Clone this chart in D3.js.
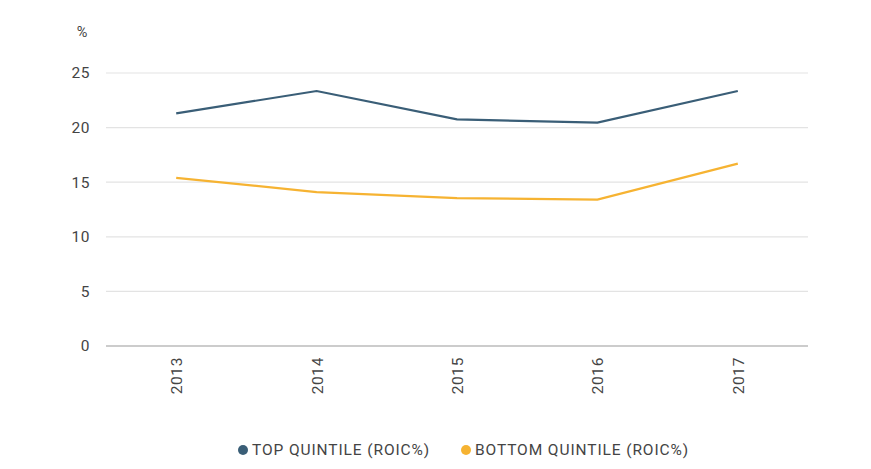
<!DOCTYPE html>
<html><head><meta charset="utf-8">
<script src="https://cdn.jsdelivr.net/npm/d3@7"></script>
<style>body{margin:0;background:#fff;} text{font-family:Roboto,"DejaVu Sans",sans-serif;}</style>
</head><body><svg id="c" width="871" height="469"></svg>
<script>
const years = ["2013","2014","2015","2016","2017"];
const topQuintile = [21.3, 23.35, 20.75, 20.45, 23.35];
const bottomQuintile = [15.4, 14.1, 13.55, 13.4, 16.7];
const yTicks = [0,5,10,15,20,25];
const seriesNames = ["TOP QUINTILE (ROIC%)", "BOTTOM QUINTILE (ROIC%)"];
const colors = ["#3a5e77", "#f6b332"];

const svg = d3.select("#c");
const m = {l:106, r:808, t:73, b:346};
const x = d3.scalePoint().domain(years).range([m.l, m.r]).padding(0.5);
const y = d3.scaleLinear().domain([0,25]).range([m.b, m.t]);

// grid
svg.append("g").selectAll("line").data(yTicks).join("line")
  .attr("x1", m.l).attr("x2", m.r)
  .attr("y1", d=>y(d)).attr("y2", d=>y(d))
  .attr("stroke", d=> d===0 ? "#9a9a9a" : "#e3e3e3").attr("stroke-width", 1.2);

// y axis labels
const ya = svg.append("g").attr("transform", `translate(${m.l},0)`)
  .call(d3.axisLeft(y).tickValues(yTicks).tickSize(0).tickPadding(16));
ya.select(".domain").remove();
ya.selectAll("text").attr("font-size", 15.5).attr("fill", "#444").attr("font-family","Roboto, sans-serif").attr("letter-spacing","0.5");
svg.append("text").attr("x", 82).attr("y", 37).attr("text-anchor","middle")
  .attr("font-size", 14.5).attr("fill","#444").text("%");

// x axis labels
const xa = svg.append("g").attr("transform", `translate(0,${m.b})`)
  .call(d3.axisBottom(x).tickSize(0));
xa.select(".domain").remove();
xa.selectAll("text").attr("font-size", 15.5).attr("fill","#444").attr("font-family","Roboto, sans-serif")
  .attr("letter-spacing","0.6")
  .attr("transform","rotate(-90)").attr("text-anchor","end")
  .attr("x", -11).attr("y", 0).attr("dy","0.35em");

const line = d3.line().x((d,i)=>x(years[i])).y(d=>y(d));
[topQuintile, bottomQuintile].forEach((s,k)=>{
  svg.append("path").datum(s).attr("d", line).attr("fill","none")
    .attr("stroke", colors[k]).attr("stroke-width", 2.2);
});

// legend
const lg = svg.append("g").attr("transform","translate(0,450)");
const lx = [243, 466];
seriesNames.forEach((n,k)=>{
  lg.append("circle").attr("cx", lx[k]).attr("cy", 0).attr("r", 5).attr("fill", colors[k]);
  lg.append("text").attr("x", lx[k]+9).attr("y", 0).attr("dy","0.35em")
    .attr("font-size", 15.5).attr("fill","#444").attr("letter-spacing", "0.9")
    .text(n);
});
</script></body></html>
